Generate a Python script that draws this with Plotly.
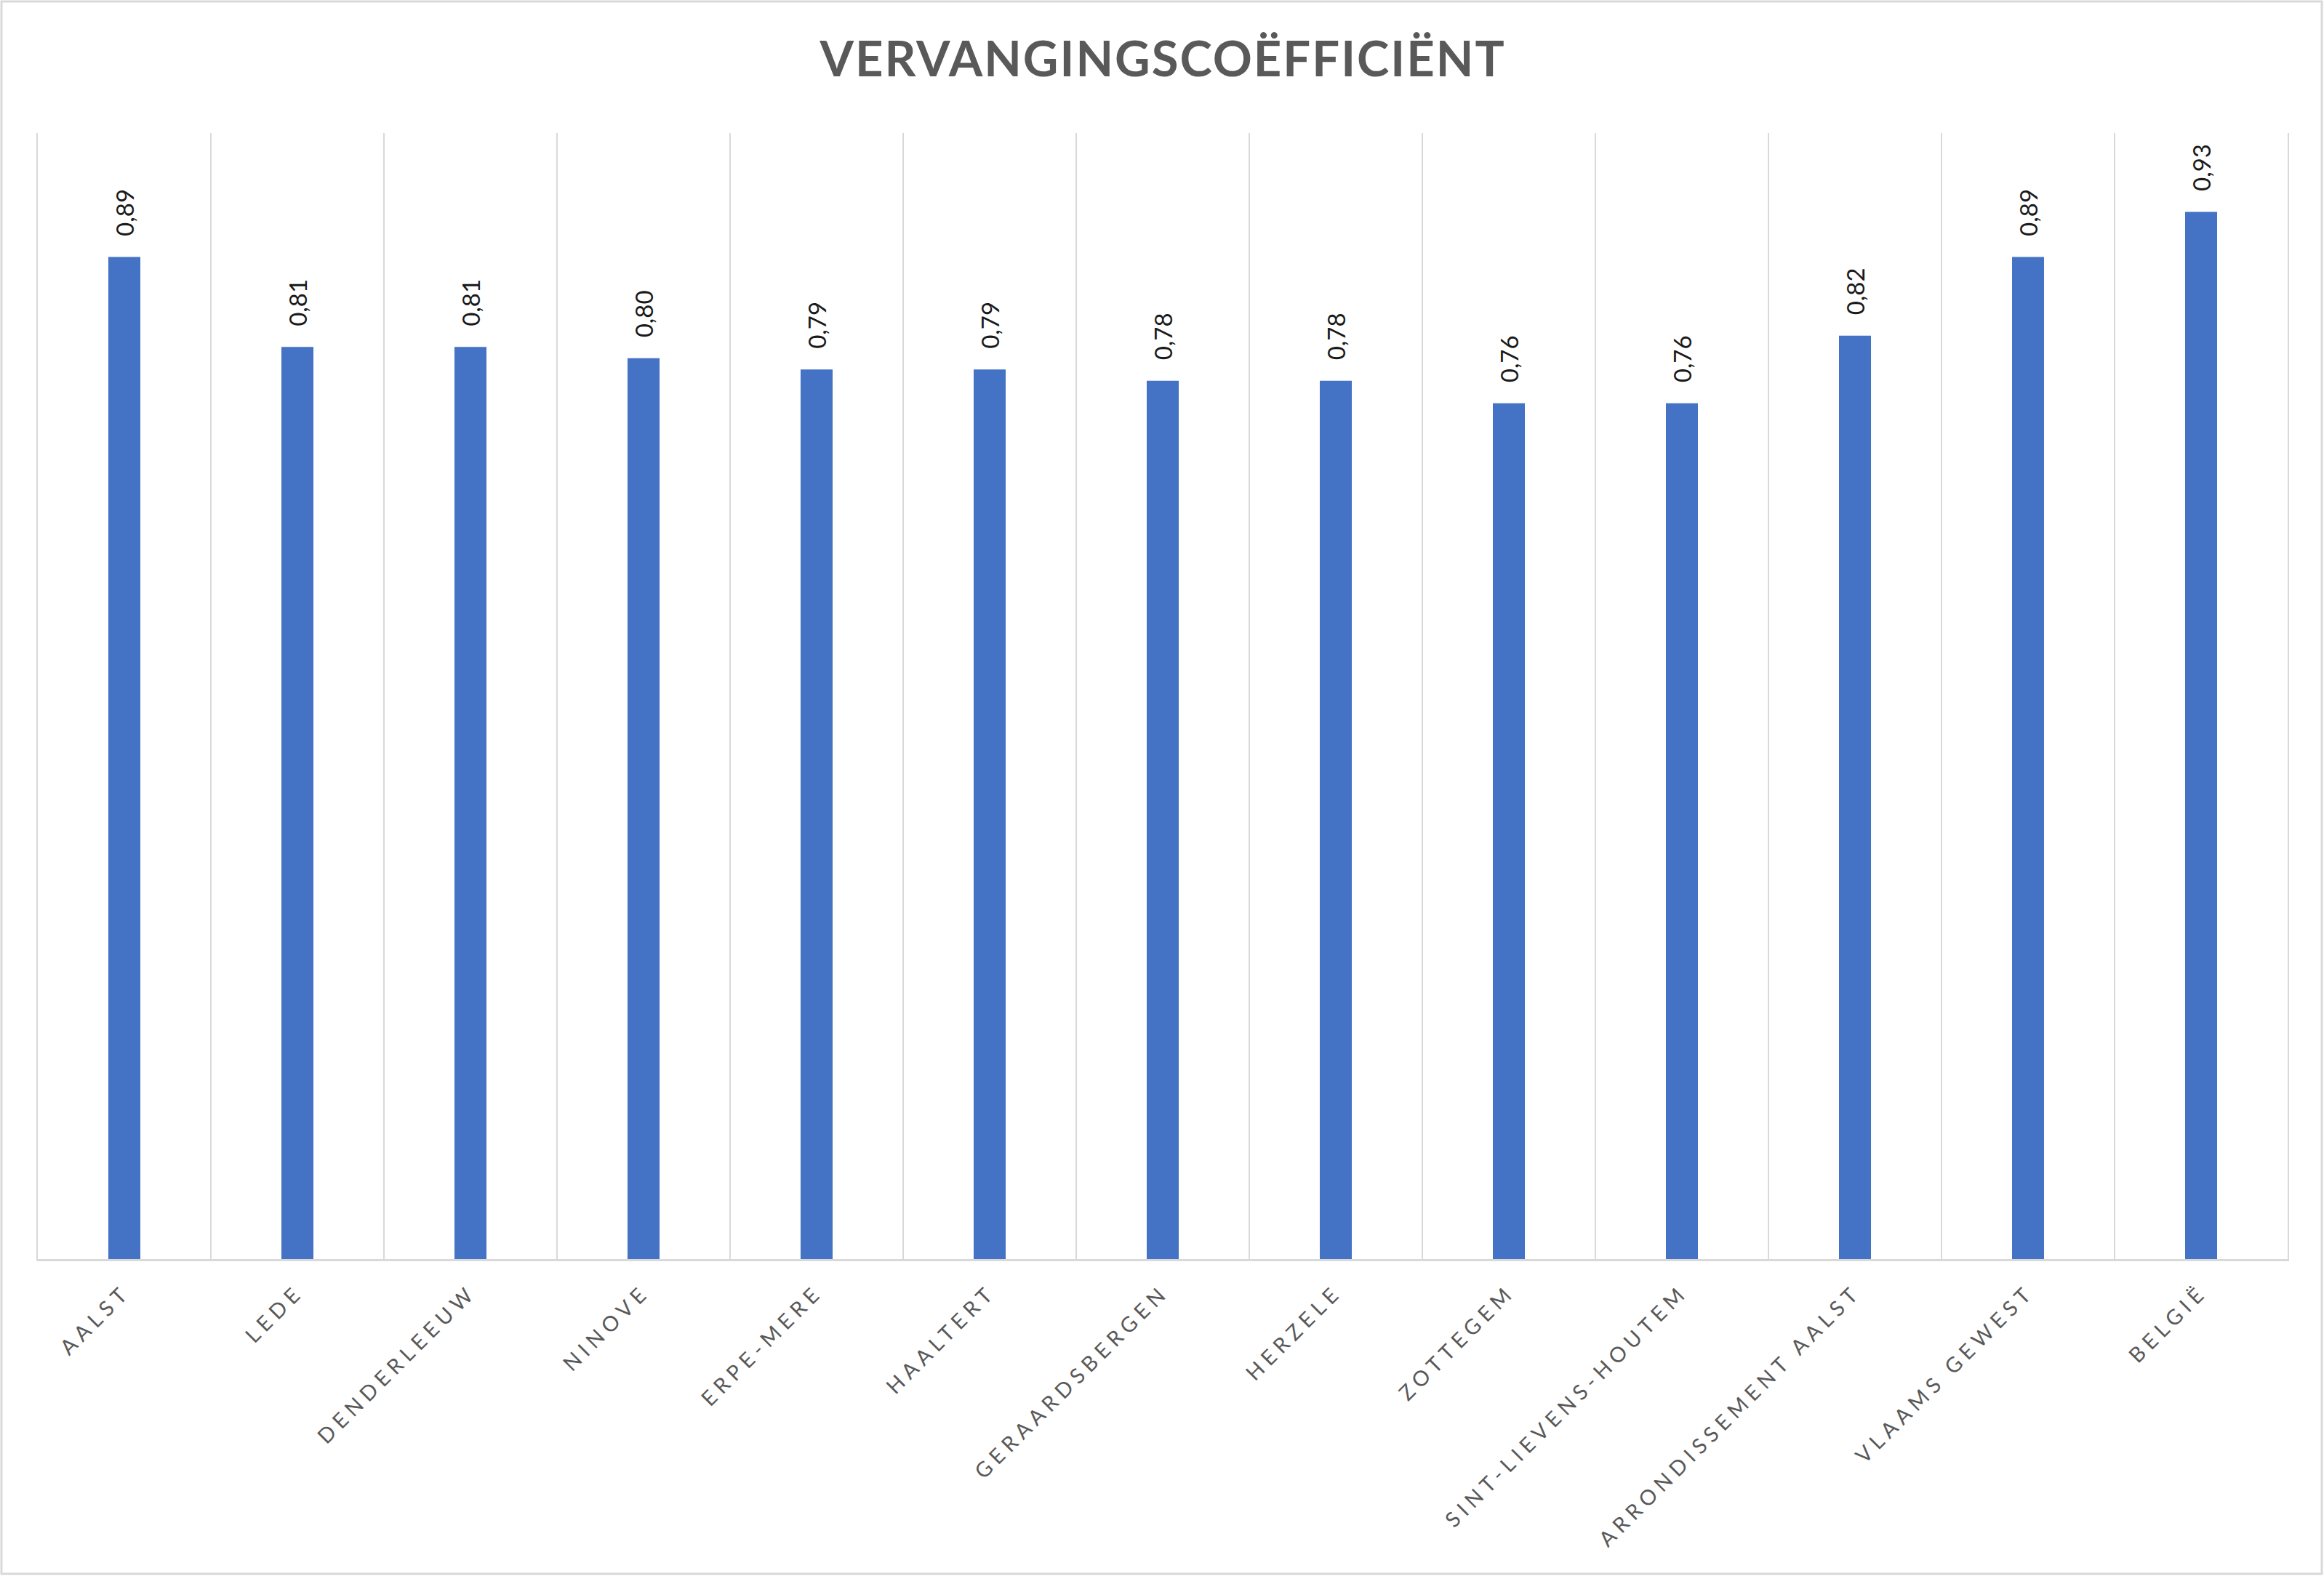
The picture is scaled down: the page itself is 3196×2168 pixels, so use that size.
import plotly.graph_objects as go

categories = ["AALST", "LEDE", "DENDERLEEUW", "NINOVE", "ERPE-MERE", "HAALTERT",
              "GERAARDSBERGEN", "HERZELE", "ZOTTEGEM", "SINT-LIEVENS-HOUTEM",
              "ARRONDISSEMENT AALST", "VLAAMS GEWEST", "BELGIË"]
values = [0.89, 0.81, 0.81, 0.80, 0.79, 0.79, 0.78, 0.78, 0.76, 0.76, 0.82, 0.89, 0.93]
title_text = "VERVANGINGSCOËFFICIËNT"
value_labels = [f"{v:.2f}".replace(".", ",") for v in values]

W, H = 3196, 2168
ml, mr, mt, mb = 52, 50, 183, 436
pw, ph = W - ml - mr, H - mt - mb

BAR = "#4472C4"
GRID = "#D9D9D9"
TXT = "#595959"
FONT = "Lato"

fig = go.Figure()
fig.add_trace(go.Bar(x=categories, y=values, marker=dict(color=BAR, line=dict(width=0)),
                     width=0.185, hoverinfo="skip"))

for c, v, t in zip(categories, values, value_labels):
    fig.add_annotation(x=c, y=v, text=t, showarrow=False, textangle=-90,
                       xanchor="center", yanchor="bottom", yshift=26,
                       font=dict(family=FONT, size=33, color="#1a1a1a"))

fig.add_shape(type="rect", xref="paper", yref="paper",
              x0=-(ml - 2) / pw, x1=1 + (mr - 3) / pw,
              y0=-(mb - 3) / ph, y1=1 + (mt - 2) / ph,
              line=dict(color=GRID, width=3), layer="below")

fig.update_layout(
    width=W, height=H,
    margin=dict(l=ml, r=mr, t=mt, b=mb),
    paper_bgcolor="white", plot_bgcolor="white",
    showlegend=False,
    title=dict(text=title_text, x=0.5, xref="paper", xanchor="center",
               y=1 - 82 / H, yanchor="middle",
               font=dict(family=FONT, size=67, color=TXT, weight="bold")),
    xaxis=dict(type="category", tickson="boundaries", showgrid=True,
               gridcolor=GRID, gridwidth=2, showline=True, linecolor=GRID,
               linewidth=3, ticks="", tickangle=-45, ticklabelstandoff=14,
               tickfont=dict(family=FONT, size=29, color=TXT),
               range=[-0.5, len(categories) - 0.5]),
    yaxis=dict(range=[0, 1], showgrid=False, showticklabels=False,
               zeroline=False, showline=True, mirror=True, linecolor=GRID,
               linewidth=2, ticks=""),
)

post = """
document.body.style.margin = '0';
document.body.style.overflow = 'hidden';
var gd = document.getElementById('{plot_id}');
gd.querySelectorAll('.xtick text').forEach(function(t){ t.style.letterSpacing = '7px'; });
var tt = gd.querySelector('.gtitle'); if (tt) { tt.style.letterSpacing = '2px'; }
"""
fig.write_html("out.html", post_script=post, config={"displayModeBar": False})
